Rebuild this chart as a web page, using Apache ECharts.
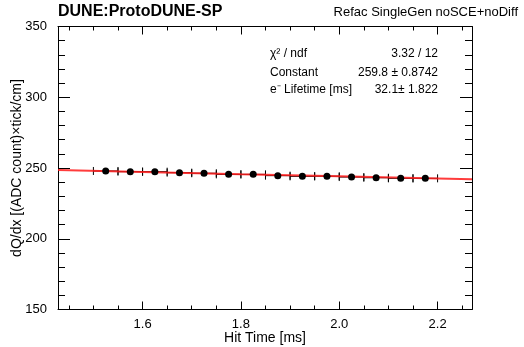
<!DOCTYPE html>
<html>
<head>
<meta charset="utf-8">
<script src="https://cdn.jsdelivr.net/npm/echarts@6/dist/echarts.min.js"></script>
<style>html,body{margin:0;padding:0;background:#fff;}#c{width:524px;height:347px;}</style>
</head>
<body>
<div id="c"></div>
<script>
// ---- data ----
var binCenters = [1.525, 1.575, 1.625, 1.675, 1.725, 1.775, 1.825, 1.875, 1.925, 1.975, 2.025, 2.075, 2.125, 2.175];
var dqdxValues = [247.9, 247.4, 247.4, 246.7, 246.3, 245.5, 245.5, 244.6, 244.1, 244.2, 243.6, 243.1, 242.7, 242.7];
var binHalfWidth = 0.025;
var fitX = [1.428, 1.6, 1.8, 2.0, 2.2, 2.27];
var fitY = [248.5, 247.2, 245.6, 244.1, 242.6, 242.1];
var xMajorTicks = [1.6, 1.8, 2.0, 2.2];
var xMinorTicks = [1.45, 1.5, 1.55, 1.65, 1.7, 1.75, 1.85, 1.9, 1.95, 2.05, 2.1, 2.15, 2.25];
var xMin = 1.428, xMax = 2.27;
var yMin = 150, yMax = 350, yStep = 50;
var titleLeft = 'DUNE:ProtoDUNE-SP';
var titleRight = 'Refac SingleGen noSCE+noDiff';
var statNames = ['\u03c7\u00b2 / ndf', 'Constant', 'e\u207b Lifetime [ms]'];
var statValues = ['3.32 / 12', '259.8 \u00b1 0.8742', '32.1\u00b1 1.822'];

var FONT = '"Liberation Sans", Arial, Helvetica, sans-serif';
var chart = echarts.init(document.getElementById('c'), null, {renderer: 'canvas'});

var pts = binCenters.map(function (x, i) { return [x, dqdxValues[i]]; });
var fitPts = fitX.map(function (x, i) { return [x, fitY[i]]; });

function xAxisDef(pos, ticks, len, labels, line) {
  return {
    type: 'value', position: pos, min: xMin, max: xMax,
    nameMoveOverlap: false,
    axisLine: {show: line, onZero: false, lineStyle: {color: '#000', width: 1}},
    axisTick: {show: true, inside: true, length: len, customValues: ticks, lineStyle: {color: '#000', width: 1}},
    axisLabel: labels ? {show: true, customValues: xMajorTicks, color: '#000', fontSize: 13, fontFamily: FONT, margin: 8,
      formatter: function (v) { return Number(v).toFixed(1); }} : {show: false},
    splitLine: {show: false}
  };
}
function yAxisDef(pos, labels) {
  return {
    type: 'value', position: pos, min: yMin, max: yMax, interval: yStep,
    name: labels ? 'dQ/dx [(ADC count)\u00d7tick/cm]' : '',
    nameLocation: 'middle', nameGap: 34, nameMoveOverlap: false,
    nameTextStyle: {color: '#000', fontSize: 14, fontFamily: FONT},
    axisLine: {show: true, onZero: false, lineStyle: {color: '#000', width: 1}},
    axisTick: {show: true, inside: true, length: 12, lineStyle: {color: '#000', width: 1}},
    minorTick: {show: true, splitNumber: 5, length: 7, lineStyle: {color: '#000', width: 1}},
    axisLabel: labels ? {show: true, color: '#000', fontSize: 13, fontFamily: FONT, margin: 11} : {show: false},
    splitLine: {show: false}
  };
}

var xAxes = [
  xAxisDef('bottom', xMajorTicks, 8, true, true),
  xAxisDef('bottom', xMinorTicks, 4, false, false),
  xAxisDef('top', xMajorTicks, 8, false, true),
  xAxisDef('top', xMinorTicks, 4, false, false)
];
xAxes[0].name = 'Hit Time [ms]';
xAxes[0].nameLocation = 'middle';
xAxes[0].nameGap = 22;
xAxes[0].nameTextStyle = {color: '#000', fontSize: 14, fontFamily: FONT};

var option = {
  backgroundColor: '#fff',
  animation: false,
  grid: {left: 58, right: 52, top: 26.5, bottom: 37.5, containLabel: false, outerBoundsMode: 'none'},
  xAxis: xAxes,
  yAxis: [yAxisDef('left', true), yAxisDef('right', false)],
  graphic: [
    {type: 'text', left: 58, top: 4, style: {text: titleLeft, fill: '#000', font: 'bold 16px ' + FONT}},
    {type: 'text', right: 6, top: 6, style: {text: titleRight, fill: '#000', font: '13px ' + FONT}},
    {type: 'text', x: 270, y: 54, style: {text: statNames[0], fill: '#000', font: '12px ' + FONT, verticalAlign: 'middle'}},
    {type: 'text', x: 270, y: 72.3, style: {text: statNames[1], fill: '#000', font: '12px ' + FONT, verticalAlign: 'middle'}},
    {type: 'text', x: 270, y: 90, style: {text: statNames[2], fill: '#000', font: '12px ' + FONT, verticalAlign: 'middle'}},
    {type: 'text', x: 438, y: 54, style: {text: statValues[0], fill: '#000', font: '12px ' + FONT, align: 'right', verticalAlign: 'middle'}},
    {type: 'text', x: 438, y: 72.3, style: {text: statValues[1], fill: '#000', font: '12px ' + FONT, align: 'right', verticalAlign: 'middle'}},
    {type: 'text', x: 438, y: 90, style: {text: statValues[2], fill: '#000', font: '12px ' + FONT, align: 'right', verticalAlign: 'middle'}}
  ],
  series: [
    {
      type: 'custom', xAxisIndex: 0, yAxisIndex: 0, z: 2,
      data: pts,
      renderItem: function (params, api) {
        var x = api.value(0), y = api.value(1);
        var a = api.coord([x - binHalfWidth, y]);
        var b = api.coord([x + binHalfWidth, y]);
        var cap = 4;
        return {
          type: 'group',
          children: [
            {type: 'line', shape: {x1: a[0], y1: a[1], x2: b[0], y2: b[1]}, style: {stroke: '#000', lineWidth: 1}},
            {type: 'line', shape: {x1: a[0], y1: a[1] - cap, x2: a[0], y2: a[1] + cap}, style: {stroke: '#000', lineWidth: 1}},
            {type: 'line', shape: {x1: b[0], y1: b[1] - cap, x2: b[0], y2: b[1] + cap}, style: {stroke: '#000', lineWidth: 1}}
          ]
        };
      }
    },
    {
      type: 'line', xAxisIndex: 0, yAxisIndex: 0, data: fitPts, z: 3,
      showSymbol: false, symbol: 'none', smooth: false,
      lineStyle: {color: '#ff1a1a', width: 2, opacity: 0.85}
    },
    {
      type: 'scatter', xAxisIndex: 0, yAxisIndex: 0, data: pts, z: 4,
      symbol: 'circle', symbolSize: 7,
      itemStyle: {color: '#000', opacity: 1}
    }
  ]
};
chart.setOption(option);
</script>
</body>
</html>
